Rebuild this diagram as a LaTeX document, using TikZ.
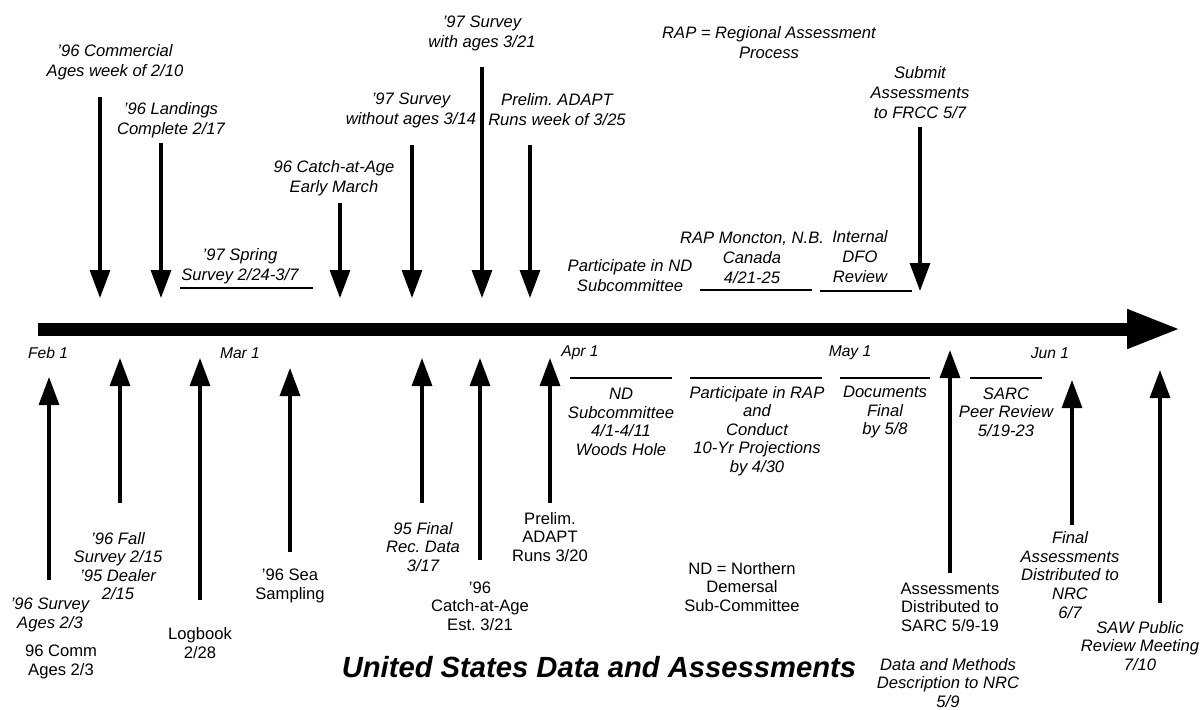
\documentclass[tikz,border=0pt]{standalone}
\usepackage{fontspec}
\setmainfont{Liberation Sans}
\usetikzlibrary{arrows.meta}
\frenchspacing
\tikzset{
  lbltop/.style={align=center, inner sep=0pt, font=\fontsize{8.3}{10}\selectfont\itshape},
  lbl/.style={align=center, inner sep=0pt, font=\fontsize{8.3}{9.3}\selectfont\itshape},
  lblup/.style={align=center, inner sep=0pt, font=\fontsize{8.3}{9.3}\selectfont},
  month/.style={inner sep=0pt, font=\fontsize{7.8}{9}\selectfont\itshape},
  ttl/.style={inner sep=0pt, font=\fontsize{14.6}{17}\selectfont\bfseries\itshape},
  evt/.style={line width=1.6pt, -{Triangle[width=10pt,length=14pt]}},
  underl/.style={line width=1.4pt},
  mainarr/.style={line width=6.5pt, -{Triangle[width=18pt,length=27pt]}}
}
\begin{document}
\frenchspacing
\begin{tikzpicture}[x=0.5pt,y=-0.5pt]
\useasboundingbox (0,0) rectangle (1200,709);
% main timeline
\coordinate (ms) at (38,329);
\coordinate (me) at (1181,329);
\draw[mainarr] (ms) -- (me);
% months
\node[month] (feb) at (48,353) {Feb 1};
\node[month] (mar) at (240,353) {Mar 1};
\node[month] (apr) at (580,353) {Apr 1};
\node[month] (may) at (850,353) {May 1};
\node[month] (jun) at (1050,353) {Jun 1};
% ---------- top labels ----------
\node[lbltop] (t1) at (115,62) {'96 Commercial\\Ages week of 2/10};
\node[lbltop] (t2) at (171,120) {'96 Landings\\Complete 2/17};
\node[lbltop] (t3) at (240,266) {'97 Spring\\Survey 2/24-3/7};
\node[lbltop] (t4) at (334,178) {96 Catch-at-Age\\Early March};
\node[lbltop] (t5) at (411,110) {'97 Survey\\without ages 3/14};
\node[lbltop] (t6) at (482,33) {'97 Survey\\with ages 3/21};
\node[lbltop] (t7) at (557,110) {Prelim. ADAPT\\Runs week of 3/25};
\node[lbltop] (t8) at (630,276) {Participate in ND\\Subcommittee};
\node[lbltop] (t9) at (752,258) {RAP Moncton, N.B.\\Canada\\4/21-25};
\node[lbltop] (t10) at (860,257) {Internal\\DFO\\Review};
\node[lbltop] (t11) at (920,93) {Submit\\Assessments\\to FRCC 5/7};
\node[lbltop] (t12) at (769,43) {RAP = Regional Assessment\\Process};
% top arrows
\coordinate (a1s) at (100,97);  \coordinate (a1e) at (100,298);
\coordinate (a2s) at (161,143); \coordinate (a2e) at (161,298);
\coordinate (a4s) at (340,203); \coordinate (a4e) at (340,298);
\coordinate (a5s) at (412,145); \coordinate (a5e) at (412,298);
\coordinate (a6s) at (482,67);  \coordinate (a6e) at (482,298);
\coordinate (a7s) at (530,145); \coordinate (a7e) at (530,298);
\coordinate (a11s) at (920,127); \coordinate (a11e) at (920,291);
\draw[evt] (a1s) -- (a1e);
\draw[evt] (a2s) -- (a2e);
\draw[evt] (a4s) -- (a4e);
\draw[evt] (a5s) -- (a5e);
\draw[evt] (a6s) -- (a6e);
\draw[evt] (a7s) -- (a7e);
\draw[evt] (a11s) -- (a11e);
% top underlines
\coordinate (u3s) at (180,288); \coordinate (u3e) at (313,288);
\coordinate (u9s) at (700,290); \coordinate (u9e) at (812,290);
\coordinate (u10s) at (820,291); \coordinate (u10e) at (912,291);
\draw[underl] (u3s) -- (u3e);
\draw[underl] (u9s) -- (u9e);
\draw[underl] (u10s) -- (u10e);
% ---------- bottom labels ----------
\node[lbl] (l1) at (50,615) {'96 Survey\\Ages 2/3};
\node[lblup] (l1b) at (61,662) {96 Comm\\Ages 2/3};
\node[lbl] (l2) at (118,566) {'96 Fall\\Survey 2/15\\'95 Dealer\\2/15};
\node[lblup] (l3) at (200,643) {Logbook\\2/28};
\node[lblup] (l4) at (290,586) {'96 Sea\\Sampling};
\node[lbl] (l5) at (423,547) {95 Final\\Rec. Data\\3/17};
\node[lblup] (l6) at (480,606) {'96\\Catch-at-Age\\Est. 3/21};
\node[lblup] (l7) at (550,537) {Prelim.\\ADAPT\\Runs 3/20};
\node[lbl] (l8) at (621,422) {ND\\Subcommittee\\4/1-4/11\\Woods Hole};
\node[lbl] (l9) at (757,431) {Participate in RAP\\and\\Conduct\\10-Yr Projections\\by 4/30};
\node[lbl] (l10) at (885,412) {Documents\\Final\\by 5/8};
\node[lblup] (l11) at (950,607) {Assessments\\Distributed to\\SARC 5/9-19};
\node[lbl] (l11b) at (948,683) {Data and Methods\\Description to NRC\\5/9};
\node[lbl] (l12) at (1006,412) {SARC\\Peer Review\\5/19-23};
\node[lbl] (l13) at (1070,575) {Final\\Assessments\\Distributed to\\NRC\\6/7};
\node[lbl] (l14) at (1140,646) {SAW Public\\Review Meeting\\7/10};
\node[lblup] (l15) at (742,587) {ND = Northern\\Demersal\\Sub-Committee};
\node[ttl] (title) at (599,667) {United States Data and Assessments};
% bottom arrows
\coordinate (b1s) at (49,580);   \coordinate (b1e) at (49,377);
\coordinate (b2s) at (120,503);  \coordinate (b2e) at (120,358);
\coordinate (b3s) at (200,600);  \coordinate (b3e) at (200,358);
\coordinate (b4s) at (290,552);  \coordinate (b4e) at (290,368);
\coordinate (b5s) at (422,503);  \coordinate (b5e) at (422,358);
\coordinate (b6s) at (480,560);  \coordinate (b6e) at (480,358);
\coordinate (b7s) at (550,503);  \coordinate (b7e) at (550,358);
\coordinate (b11s) at (950,573); \coordinate (b11e) at (950,350);
\coordinate (b13s) at (1072,525); \coordinate (b13e) at (1072,380);
\coordinate (b14s) at (1160,603); \coordinate (b14e) at (1160,370);
\draw[evt] (b1s) -- (b1e);
\draw[evt] (b2s) -- (b2e);
\draw[evt] (b3s) -- (b3e);
\draw[evt] (b4s) -- (b4e);
\draw[evt] (b5s) -- (b5e);
\draw[evt] (b6s) -- (b6e);
\draw[evt] (b7s) -- (b7e);
\draw[evt] (b11s) -- (b11e);
\draw[evt] (b13s) -- (b13e);
\draw[evt] (b14s) -- (b14e);
% bottom underlines
\coordinate (v8s) at (570,378);  \coordinate (v8e) at (672,378);
\coordinate (v9s) at (690,378);  \coordinate (v9e) at (822,378);
\coordinate (v10s) at (840,378); \coordinate (v10e) at (930,378);
\coordinate (v12s) at (970,378); \coordinate (v12e) at (1042,378);
\draw[underl] (v8s) -- (v8e);
\draw[underl] (v9s) -- (v9e);
\draw[underl] (v10s) -- (v10e);
\draw[underl] (v12s) -- (v12e);
\end{tikzpicture}
\end{document}
